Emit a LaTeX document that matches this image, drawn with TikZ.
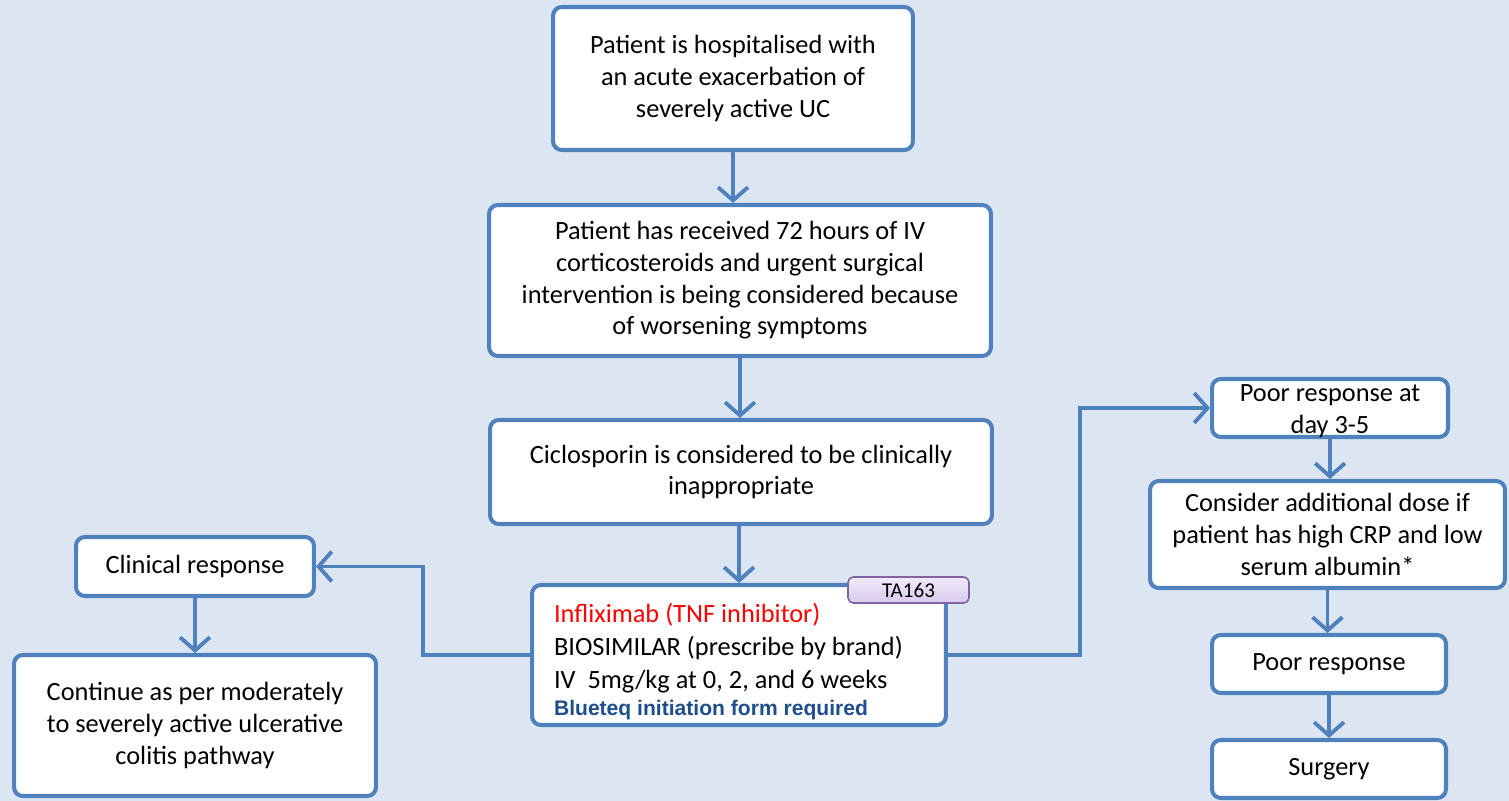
\documentclass[tikz,border=0pt]{standalone}
\usepackage{fontspec}
\setmainfont{Carlito}
\newfontfamily\arialfont{Liberation Sans}
\usetikzlibrary{arrows.meta}
\definecolor{bgblue}{HTML}{DCE6F2}
\definecolor{boxline}{HTML}{4F81BD}
\definecolor{tagline}{HTML}{8064A2}
\definecolor{tagtop}{HTML}{F1EAF9}
\definecolor{tagbottom}{HTML}{D9CBEE}
\definecolor{formblue}{HTML}{1F4E8C}

\begin{document}
\begin{tikzpicture}[x=0.02cm, y=-0.02cm,
    stepbox/.style={draw=boxline, line width=2.3pt, rounded corners=5pt, fill=white,
        align=center, inner sep=0pt, font=\fontsize{15}{18}\selectfont},
    tagbox/.style={draw=tagline, line width=0.9pt, rounded corners=3pt,
        top color=tagtop, bottom color=tagbottom, inner sep=0pt,
        minimum width=2.42cm, minimum height=0.52cm, font=\fontsize{12}{14}\selectfont},
    flow/.style={draw=boxline, line width=2.2pt,
        -{Straight Barb[length=7.5pt, width=17pt, line width=2.2pt]}}]
    \fill[bgblue] (0,0) rectangle (1509,801);
    \useasboundingbox (0,0) rectangle (1509,801);

    \node[stepbox, minimum width=7.2cm, minimum height=2.86cm] (hosp) at (733,78.5)
        {Patient is hospitalised with\\an acute exacerbation of\\severely active UC};
    \node[stepbox, minimum width=10.04cm, minimum height=3.02cm] (steroid) at (740,280.5)
        {Patient has received 72 hours of IV\\corticosteroids and urgent surgical\\intervention is being considered because\\of worsening symptoms};
    \node[stepbox, minimum width=10.04cm, minimum height=2.08cm] (ciclo) at (741,472)
        {Ciclosporin is considered to be clinically\\inappropriate};
    \node[stepbox, minimum width=8.28cm, minimum height=2.8cm, align=flush left, text width=7.4cm,
        font=\fontsize{15}{18.7}\selectfont] (inflix) at (739,655)
        {\rule{0pt}{18.5pt}{\color{red}Infliximab (TNF inhibitor)}\\BIOSIMILAR (prescribe by brand)\\IV\ \ 5mg/kg at 0, 2, and 6 weeks\\[-3.4pt]{\arialfont\bfseries\fontsize{12}{14}\selectfont\color{formblue}Blueteq initiation form required}};
    \node[tagbox] (ta) at (908.5,590) {TA163};

    \node[stepbox, minimum width=4.76cm, minimum height=1.18cm] (clin) at (195,566.5)
        {Clinical response};
    \node[stepbox, minimum width=7.24cm, minimum height=2.82cm,
        font=\fontsize{15}{18.4}\selectfont] (cont) at (195,725.5)
        {Continue as per moderately\\to severely active ulcerative\\colitis pathway};

    \node[stepbox, minimum width=4.72cm, minimum height=1.16cm,
        font=\fontsize{15}{18.2}\selectfont] (poorday) at (1330,408)
        {\raisebox{-14.7pt}[0pt][0pt]{\parbox[b]{4.6cm}{\centering Poor response at\\day 3-5}}};
    \node[stepbox, minimum width=7.1cm, minimum height=2.14cm] (dose) at (1327.5,534.5)
        {Consider additional dose if\\patient has high CRP and low\\serum albumin*};
    \node[stepbox, minimum width=4.68cm, minimum height=1.16cm] (poor) at (1329,664)
        {Poor response};
    \node[stepbox, minimum width=4.68cm, minimum height=1.16cm] (surg) at (1329,769)
        {Surgery};

    \draw[flow] (hosp.south) -- (hosp.south |- steroid.north);
    \draw[flow] (steroid.south) -- (steroid.south |- ciclo.north);
    \draw[flow] (ciclo.south -| inflix.north) -- (inflix.north);
    \draw[flow] (inflix.west) -- ++(-107,0) |- (clin.east);
    \draw[flow] (clin.south) -- (clin.south |- cont.north);
    \draw[flow] (inflix.east) -- ++(132,0) |- (poorday.west);
    \draw[flow] (poorday.south) -- (poorday.south |- dose.north);
    \draw[flow] (dose.south) -- (dose.south |- poor.north);
    \draw[flow] (poor.south) -- (surg.north);
\end{tikzpicture}
\end{document}
